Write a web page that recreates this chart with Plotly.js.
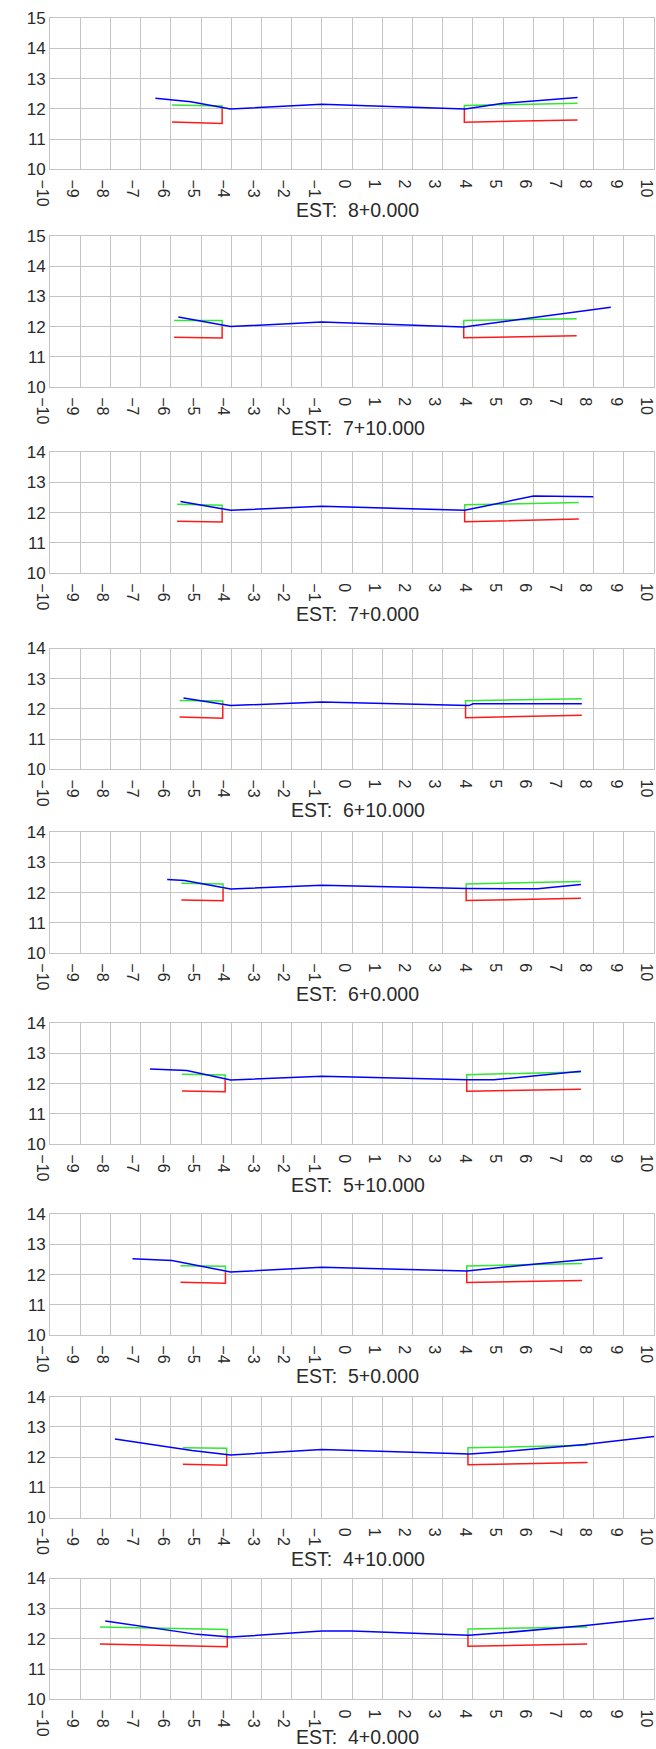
<!DOCTYPE html>
<html>
<head>
<meta charset="utf-8">
<script src="https://cdn.plot.ly/plotly-3.0.1.min.js"></script>
<style>html,body{margin:0;padding:0;background:#fff;}#chart{width:656px;height:1749px;}</style>
</head>
<body>
<div id="chart"></div>
<script>
// ---- data ----
const stations = ['8+0.000','7+10.000','7+0.000','6+10.000','6+0.000','5+10.000','5+0.000','4+10.000','4+0.000'];
const yTop = [15, 15, 14, 14, 14, 14, 14, 14, 14];
const xTickVals = [-10,-9,-8,-7,-6,-5,-4,-3,-2,-1,0,1,2,3,4,5,6,7,8,9,10];

// blue: ground / surface profile
const blueX = [
  [-6.51,-5.34,-4.02,-1.0,3.75,4.95,7.47],
  [-5.75,-4.02,-1.0,3.70,8.57],
  [-5.68,-4.02,-1.0,3.73,6.01,7.99],
  [-5.58,-4.02,-1.0,3.87,4.01,7.61],
  [-6.12,-5.54,-4.02,-1.0,3.80,6.15,7.58],
  [-6.69,-5.47,-4.02,-1.0,3.80,4.70,7.58],
  [-7.27,-5.96,-4.02,-1.0,3.80,6.01,8.30],
  [-7.85,-5.30,-4.02,-1.0,3.90,5.00,7.70,10.0],
  [-8.17,-5.13,-4.02,-1.0,0.0,3.87,4.98,7.74,10.0]
];
const blueY = [
  [12.35,12.24,12.00,12.15,12.00,12.18,12.38],
  [12.32,12.00,12.15,11.99,12.64],
  [12.37,12.08,12.21,12.08,12.55,12.53],
  [12.36,12.11,12.23,12.11,12.17,12.17],
  [12.44,12.40,12.12,12.25,12.14,12.13,12.27],
  [12.49,12.44,12.12,12.25,12.13,12.13,12.41],
  [12.53,12.47,12.09,12.25,12.12,12.35,12.55],
  [12.60,12.22,12.07,12.25,12.10,12.18,12.42,12.68],
  [12.59,12.15,12.06,12.26,12.26,12.12,12.20,12.44,12.68]
];

// green: design top, left and right pieces
const greenLX = [
  [-5.96,-4.30,-4.30],[-5.89,-4.30,-4.30],[-5.79,-4.30,-4.30],[-5.71,-4.28,-4.28],[-5.65,-4.27,-4.27],
  [-5.63,-4.20,-4.20],[-5.68,-4.19,-4.19],[-5.60,-4.15,-4.15],[-8.35,-4.13,-4.13]
];
const greenLY = [
  [12.13,12.10,12.01],[12.20,12.20,12.00],[12.28,12.25,12.08],[12.28,12.26,12.11],[12.31,12.29,12.12],
  [12.31,12.29,12.12],[12.30,12.28,12.09],[12.31,12.29,12.07],[12.39,12.31,12.06]
];
const greenRX = [
  [3.72,3.72,7.47],[3.70,3.70,7.44],[3.73,3.73,7.51],[3.76,3.76,7.61],[3.78,3.78,7.58],
  [3.80,3.80,7.58],[3.80,3.80,7.62],[3.84,3.84,7.80],[3.84,3.84,7.79]
];
const greenRY = [
  [12.01,12.11,12.19],[11.99,12.20,12.26],[12.08,12.26,12.34],[12.11,12.27,12.34],[12.14,12.29,12.37],
  [12.13,12.30,12.39],[12.12,12.29,12.37],[12.10,12.31,12.39],[12.12,12.33,12.39]
];

// red: subgrade, left and right pieces
const redLY = [
  [11.57,11.52,12.01],[11.65,11.62,12.00],[11.72,11.69,12.08],[11.73,11.69,12.11],[11.76,11.73,12.12],
  [11.76,11.73,12.12],[11.75,11.72,12.09],[11.76,11.73,12.07],[11.83,11.74,12.06]
];
const redRY = [
  [12.01,11.56,11.63],[11.99,11.63,11.70],[12.08,11.70,11.79],[12.11,11.71,11.79],[12.14,11.74,11.82],
  [12.13,11.75,11.82],[12.12,11.74,11.81],[12.10,11.75,11.82],[12.12,11.76,11.83]
];

// ---- layout geometry (pixels in a 656 x 1749 page) ----
const W = 656, H = 1749;
const plotLeft = 50, plotRight = 654;
const unitPx = (plotRight - plotLeft) / 20;
const plotTops = [18.3, 236, 452.3, 648.5, 832.3, 1023.3, 1214.3, 1396.7, 1578.5];

const gridColor = '#c4c4c4';
const textColor = '#2a2a2a';
const fontFam = '"Liberation Sans", Arial, sans-serif';

const traces = [];
const layout = {
  width: W, height: H,
  margin: {l: 0, r: 0, t: 0, b: 0},
  paper_bgcolor: '#fff', plot_bgcolor: '#fff',
  showlegend: false,
  font: {family: fontFam, color: textColor, size: 16},
  annotations: []
};

const colors = {blue: '#0000ff', green: '#33e633', red: '#ff1a1a'};
const lw = 1.5;

stations.forEach((st, i) => {
  const n = i + 1;
  const xa = n === 1 ? 'x' : 'x' + n;
  const ya = n === 1 ? 'y' : 'y' + n;
  const top = plotTops[i];
  const bottom = top + (yTop[i] - 10) * unitPx;

  const add = (x, y, c) => traces.push({
    type: 'scatter', mode: 'lines', x: x, y: y, xaxis: xa, yaxis: ya,
    line: {color: c, width: lw}, hoverinfo: 'skip', cliponaxis: true
  });
  add(greenLX[i], greenLY[i], colors.green);
  add(greenLX[i], redLY[i], colors.red);
  add(greenRX[i], greenRY[i], colors.green);
  add(greenRX[i], redRY[i], colors.red);
  add(blueX[i], blueY[i], colors.blue);

  const yTicks = [];
  for (let v = 10; v <= yTop[i]; v++) yTicks.push(v);

  layout['xaxis' + (n === 1 ? '' : n)] = {
    domain: [plotLeft / W, plotRight / W],
    anchor: ya, range: [-10, 10], fixedrange: true,
    tickmode: 'array', tickvals: xTickVals,
    tickangle: 90, ticks: '', ticklabelshift: -8, ticklabelstandoff: 6,
    ticklabeloverflow: 'allow',
    tickfont: {size: 16, color: textColor, family: fontFam},
    showgrid: true, gridcolor: gridColor, gridwidth: 1,
    zeroline: false, showline: true, mirror: true, linecolor: gridColor, linewidth: 1
  };
  layout['yaxis' + (n === 1 ? '' : n)] = {
    domain: [1 - bottom / H, 1 - top / H],
    anchor: xa, range: [10, yTop[i]], fixedrange: true,
    tickmode: 'array', tickvals: yTicks, ticks: '',
    tickfont: {size: 17, color: textColor, family: fontFam},
    showgrid: true, gridcolor: gridColor, gridwidth: 1,
    zeroline: false, showline: true, mirror: true, linecolor: gridColor, linewidth: 1
  };
  const labelCenter = Math.min(bottom + 41, H - 12);
  layout.annotations.push({
    xref: 'paper', yref: 'paper', x: 357.7 / W, y: 1 - labelCenter / H,
    xanchor: 'center', yanchor: 'middle', showarrow: false,
    text: 'EST:\u00a0\u00a0' + st,
    font: {size: 19.5, color: textColor, family: fontFam}
  });
});

Plotly.newPlot('chart', traces, layout, {staticPlot: true, displayModeBar: false});
</script>
</body>
</html>
